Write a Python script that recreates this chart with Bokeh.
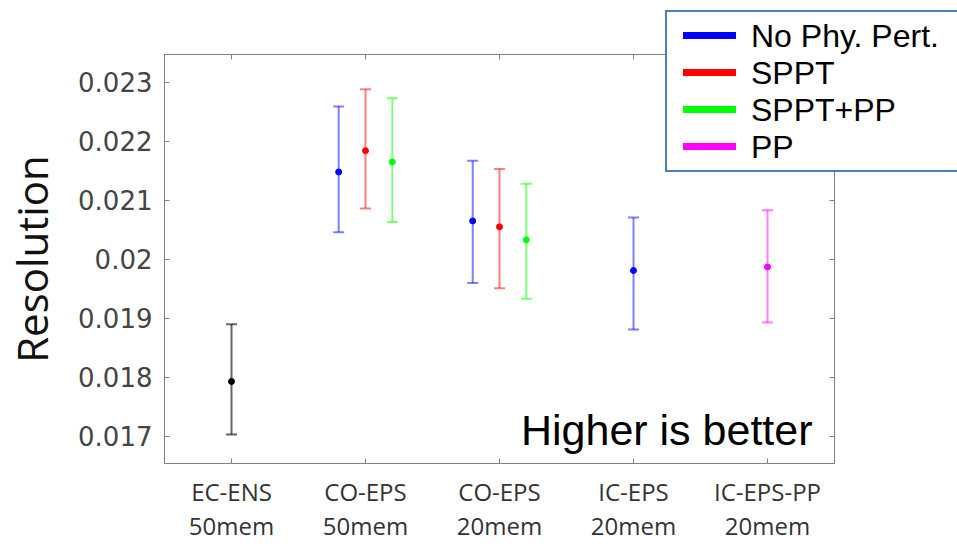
from bokeh.plotting import figure
from bokeh.layouts import column
from bokeh.models import (ColumnDataSource, Whisker, TeeHead, Div,
                          LinearAxis, FixedTicker, Range1d, Label)
from bokeh.embed import file_html
from bokeh.resources import INLINE

# ---------------- data ----------------
group_names = ["EC-ENS", "CO-EPS", "CO-EPS", "IC-EPS", "IC-EPS-PP"]
member_counts = ["50mem", "50mem", "20mem", "20mem", "20mem"]
y_ticks = [0.017, 0.018, 0.019, 0.020, 0.021, 0.022, 0.023]
y_tick_labels = ["0.017", "0.018", "0.019", "0.02", "0.021", "0.022", "0.023"]

ecens_cat = [0]
ecens_mean = [0.01793]
ecens_low = [0.01703]
ecens_high = [0.01890]

nopert_cat = [1, 2, 3]
nopert_mean = [0.02148, 0.02065, 0.01981]
nopert_low = [0.02046, 0.01960, 0.01881]
nopert_high = [0.02259, 0.02167, 0.02071]

sppt_cat = [1, 2]
sppt_mean = [0.02184, 0.02055]
sppt_low = [0.02086, 0.01951]
sppt_high = [0.02288, 0.02153]

spptpp_cat = [1, 2]
spptpp_mean = [0.02165, 0.02033]
spptpp_low = [0.02063, 0.01933]
spptpp_high = [0.02273, 0.02128]

pp_cat = [4]
pp_mean = [0.01987]
pp_low = [0.01893]
pp_high = [0.02083]

series = [
    ("EC-ENS", "#000000", ecens_cat, ecens_mean, ecens_low, ecens_high),
    ("No Phy. Pert.", "#0000ff", nopert_cat, nopert_mean, nopert_low, nopert_high),
    ("SPPT", "#ff0000", sppt_cat, sppt_mean, sppt_low, sppt_high),
    ("SPPT+PP", "#00ff00", spptpp_cat, spptpp_mean, spptpp_low, spptpp_high),
    ("PP", "#ff00ff", pp_cat, pp_mean, pp_low, pp_high),
]
legend_series = ["No Phy. Pert.", "SPPT", "SPPT+PP", "PP"]
note_text = "Higher is better"

# ---------------- main figure ----------------
DODGE = 0.2
p = figure(width=957, height=544, output_backend="svg", toolbar_location=None,
           x_range=Range1d(0.5, 5.5), y_range=Range1d(0.01654, 0.02347),
           min_border_left=164, min_border_right=123, min_border_top=54,
           min_border_bottom=80, background_fill_color="white",
           border_fill_color="white")
p.grid.visible = False
p.outline_line_color = "#808080"
p.outline_line_width = 1

present = {}
for name, color, cats, *_ in series:
    for c in cats:
        present.setdefault(c, []).append(name)

for name, color, cats, mean, low, high in series:
    xs = []
    for c in cats:
        members = present[c]
        k = members.index(name)
        xs.append(c + 1 + (k - (len(members) - 1) / 2) * DODGE)
    src = ColumnDataSource(dict(x=xs, mean=mean, low=low, high=high))
    alpha = 0.6 if name == "EC-ENS" else 0.5
    w = Whisker(base="x", upper="high", lower="low", source=src, dimension="height",
                line_color=color, line_alpha=alpha, line_width=2,
                upper_head=TeeHead(size=11, line_color=color, line_alpha=alpha, line_width=2),
                lower_head=TeeHead(size=11, line_color=color, line_alpha=alpha, line_width=2))
    p.add_layout(w)
    p.scatter("x", "mean", source=src, size=6, color=color)

# ---------------- axes ----------------
axis_gray = "#808080"
cat_ticks = [i + 1 for i in range(len(group_names))]

xa = p.xaxis[0]
xa.ticker = FixedTicker(ticks=cat_ticks)
xa.major_label_overrides = {t: g for t, g in zip(cat_ticks, group_names)}
xa.major_label_text_font = "Open Sans"
xa.major_label_text_font_size = "24px"
xa.major_label_text_color = "#333333"
xa.major_label_standoff = 11
xa.major_tick_in = 5
xa.major_tick_out = 0
xa.minor_tick_line_color = None
xa.axis_line_color = axis_gray
xa.major_tick_line_color = axis_gray

xa2 = LinearAxis(ticker=FixedTicker(ticks=cat_ticks),
                 major_label_overrides={t: m for t, m in zip(cat_ticks, member_counts)},
                 major_label_text_font="Open Sans", major_label_text_font_size="24px",
                 major_label_text_color="#333333", major_label_standoff=-2,
                 axis_line_color=None, major_tick_line_color=None,
                 minor_tick_line_color=None, major_tick_in=0, major_tick_out=0)
p.add_layout(xa2, "below")

ya = p.yaxis[0]
ya.ticker = FixedTicker(ticks=y_ticks)
ya.major_label_overrides = {t: l for t, l in zip(y_ticks, y_tick_labels)}
ya.major_label_text_font = "DejaVu Sans"
ya.major_label_text_font_size = "26px"
ya.major_label_text_color = "#444444"
ya.major_label_standoff = 12
ya.major_tick_in = 5
ya.major_tick_out = 0
ya.minor_tick_line_color = None
ya.axis_line_color = axis_gray
ya.major_tick_line_color = axis_gray
ya.axis_label = "Resolution"
ya.axis_label_text_font = "Open Sans"
ya.axis_label_text_font_size = "42px"
ya.axis_label_text_font_style = "normal"
ya.axis_label_text_color = "#111111"
ya.axis_label_standoff = 15

top = LinearAxis(ticker=FixedTicker(ticks=cat_ticks),
                 major_label_overrides={t: "" for t in cat_ticks},
                 major_label_standoff=0, major_tick_in=5, major_tick_out=0,
                 minor_tick_line_color=None, axis_line_color=axis_gray,
                 major_tick_line_color=axis_gray)
p.add_layout(top, "above")
right = LinearAxis(ticker=FixedTicker(ticks=y_ticks),
                   major_label_overrides={t: "" for t in y_ticks},
                   major_label_standoff=0, major_tick_in=5, major_tick_out=0,
                   minor_tick_line_color=None, axis_line_color=axis_gray,
                   major_tick_line_color=axis_gray)
p.add_layout(right, "right")

p.add_layout(Label(x=5.336, y=0.01711, text=note_text, text_align="right",
                   text_baseline="alphabetic", text_font="Liberation Sans",
                   text_font_size="43px", text_color="#000000"))

# ---------------- legend (HTML box overlapping the plot's top-right corner) ----------------
LEG_LEFT, LEG_TOP, LEG_W, LEG_H = 665, 10, 292, 162
rows = []
for name, color, *_ in series:
    if name in legend_series:
        rows.append(
            '<div style="display:flex;align-items:center;height:37px;">'
            f'<span style="display:inline-block;width:53px;height:7px;background:{color};'
            'margin-right:15px;"></span>'
            f'<span style="font-family:\'Liberation Sans\';font-size:32px;line-height:1;'
            f'color:#000;white-space:nowrap;">{name}</span></div>'
        )
legend_html = (
    f'<div style="box-sizing:border-box;width:{LEG_W + 20}px;height:{LEG_H}px;'
    'border:2px solid #4a7ebb;background:#ffffff;padding:5px 0 0 16px;">'
    + "".join(rows) + '</div>'
)
legend_div = Div(text=legend_html, width=LEG_W, height=LEG_H,
                 margin=(-(544 - LEG_TOP), 0, 0, LEG_LEFT),
                 styles={"position": "relative", "z-index": "10", "overflow": "hidden"})

layout = column(p, legend_div)
open("out.html", "w").write(file_html(layout, INLINE))
